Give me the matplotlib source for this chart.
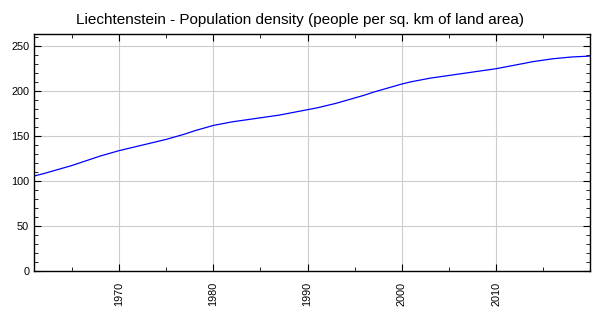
import matplotlib
matplotlib.use("Agg")
import matplotlib.pyplot as plt
from matplotlib.ticker import MultipleLocator

plt.rcParams['font.family'] = ['Liberation Sans', 'DejaVu Sans']

years = list(range(1961, 2021))
density = [105.4, 108.0, 111.0, 114.0, 117.0, 120.5, 124.0, 127.5, 130.5, 133.5,
           136.0, 138.5, 141.0, 143.5, 146.0, 149.0, 152.0, 155.5, 158.5, 161.5,
           163.5, 165.5, 167.0, 168.5, 170.0, 171.5, 173.0, 175.0, 177.0, 179.0,
           181.0, 183.5, 186.0, 189.0, 192.0, 195.0, 198.5, 201.5, 204.5, 207.5,
           210.0, 212.0, 214.0, 215.5, 217.0, 218.5, 220.0, 221.5, 223.0, 224.5,
           226.5, 228.5, 230.5, 232.5, 234.0, 235.5, 236.5, 237.5, 238.0, 238.5]

fig = plt.figure(figsize=(6.0, 3.15), dpi=100)
ax = fig.add_axes([34/600, 1-271/315, 556/600, 237/315])

ax.plot(years, density, color='#0000ff', lw=0.9)

ax.set_xlim(1961, 2019.95)
ax.set_ylim(0, 263)
ax.xaxis.set_major_locator(MultipleLocator(10))
ax.xaxis.set_minor_locator(MultipleLocator(5))
ax.yaxis.set_major_locator(MultipleLocator(50))
ax.yaxis.set_minor_locator(MultipleLocator(10))
ax.grid(True, which='major', color='#cccccc', lw=0.8)
ax.tick_params(which='both', direction='in', top=True, right=True, labelsize=7.8, colors='black')
ax.tick_params(which='major', length=5)
ax.tick_params(which='minor', length=3)
ax.tick_params(axis='x', labelrotation=90, pad=8)
for s in ax.spines.values():
    s.set_linewidth(1.0)

fig.suptitle('Liechtenstein - Population density (people per sq. km of land area)',
             y=0.96, fontsize=11)

fig.savefig('out.png', dpi=100)
